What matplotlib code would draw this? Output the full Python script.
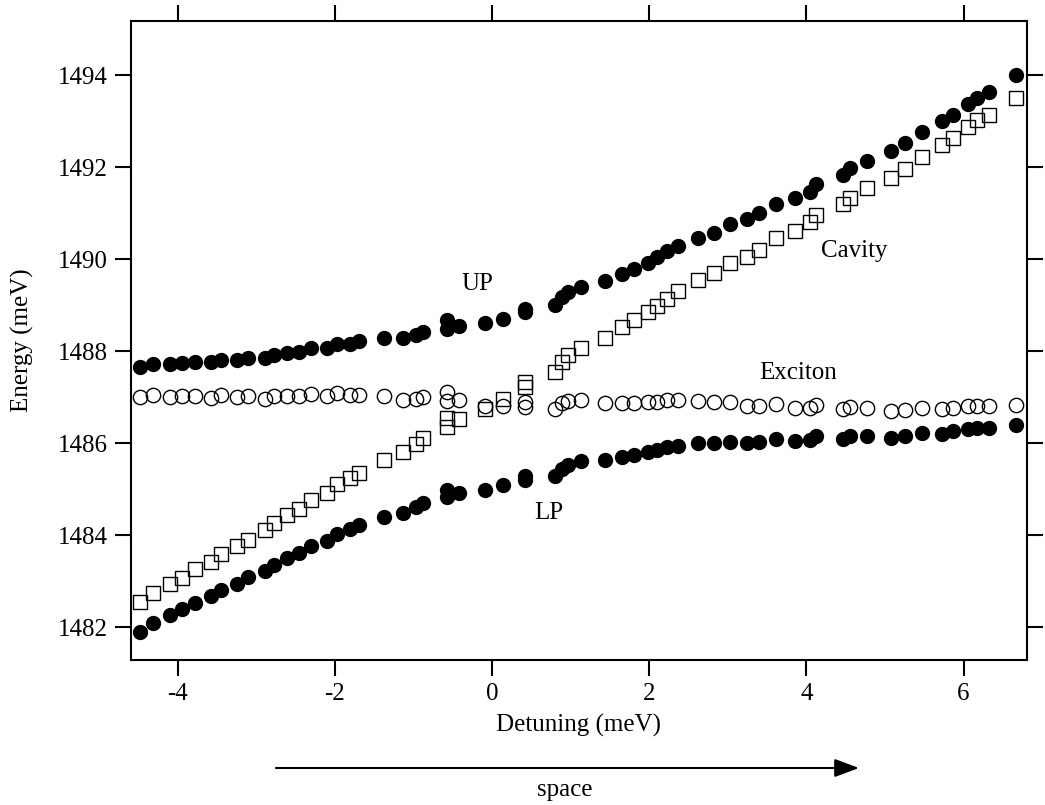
import numpy as np
import matplotlib.pyplot as plt

plt.rcParams['font.family'] = ['Liberation Serif', 'DejaVu Serif']
plt.rcParams['axes.unicode_minus'] = False

# detuning values (meV), two repeated measurements at -0.58 and 0.42
detuning = [-4.48, -4.32, -4.10, -3.95, -3.78, -3.58, -3.45, -3.24, -3.11, -2.89,
            -2.77, -2.61, -2.46, -2.30, -2.10, -1.98, -1.81, -1.70, -1.37, -1.13,
            -0.97, -0.88, -0.58, -0.58, -0.42, -0.09, 0.14, 0.42, 0.42, 0.80,
            0.89, 0.97, 1.13, 1.44, 1.65, 1.80, 1.98, 2.10, 2.22, 2.37,
            2.62, 2.82, 3.03, 3.24, 3.40, 3.61, 3.85, 4.04, 4.12, 4.46,
            4.55, 4.77, 5.08, 5.26, 5.47, 5.73, 5.86, 6.05, 6.17, 6.32, 6.67]

# upper polariton
up = [1487.65, 1487.73, 1487.73, 1487.74, 1487.76, 1487.76, 1487.81, 1487.81, 1487.86, 1487.86,
      1487.92, 1487.97, 1487.99, 1488.07, 1488.07, 1488.17, 1488.17, 1488.22, 1488.28, 1488.28,
      1488.36, 1488.41, 1488.68, 1488.49, 1488.56, 1488.61, 1488.70, 1488.92, 1488.85, 1489.01,
      1489.19, 1489.30, 1489.40, 1489.52, 1489.69, 1489.79, 1489.93, 1490.04, 1490.17, 1490.29,
      1490.47, 1490.58, 1490.76, 1490.87, 1491.00, 1491.21, 1491.33, 1491.47, 1491.64, 1491.83,
      1491.98, 1492.14, 1492.35, 1492.53, 1492.77, 1493.00, 1493.13, 1493.38, 1493.50, 1493.63, 1494.00]

# lower polariton
lp = [1481.90, 1482.10, 1482.27, 1482.39, 1482.52, 1482.68, 1482.82, 1482.95, 1483.10, 1483.23,
      1483.35, 1483.50, 1483.61, 1483.76, 1483.88, 1484.04, 1484.13, 1484.22, 1484.40, 1484.49,
      1484.62, 1484.70, 1484.99, 1484.83, 1484.92, 1484.98, 1485.09, 1485.28, 1485.21, 1485.28,
      1485.45, 1485.52, 1485.61, 1485.63, 1485.70, 1485.74, 1485.81, 1485.85, 1485.92, 1485.95,
      1486.00, 1486.00, 1486.03, 1486.00, 1486.03, 1486.10, 1486.06, 1486.08, 1486.15, 1486.10,
      1486.15, 1486.16, 1486.12, 1486.16, 1486.22, 1486.21, 1486.26, 1486.32, 1486.34, 1486.34, 1486.39]

# bare cavity mode
cavity = [1482.56, 1482.74, 1482.95, 1483.08, 1483.26, 1483.42, 1483.59, 1483.76, 1483.91, 1484.11,
          1484.26, 1484.44, 1484.58, 1484.76, 1484.92, 1485.11, 1485.25, 1485.35, 1485.64, 1485.81,
          1485.99, 1486.11, 1486.56, 1486.35, 1486.53, 1486.75, 1486.97, 1487.33, 1487.22, 1487.54,
          1487.76, 1487.91, 1488.07, 1488.30, 1488.52, 1488.67, 1488.86, 1488.99, 1489.14, 1489.32,
          1489.55, 1489.71, 1489.91, 1490.05, 1490.21, 1490.46, 1490.62, 1490.80, 1490.97, 1491.20,
          1491.34, 1491.54, 1491.77, 1491.97, 1492.23, 1492.48, 1492.63, 1492.87, 1493.02, 1493.13, 1493.51]

# bare exciton
exciton = [1487.00, 1487.06, 1487.00, 1487.02, 1487.02, 1486.99, 1487.05, 1487.00, 1487.02, 1486.97,
           1487.02, 1487.03, 1487.02, 1487.08, 1487.02, 1487.09, 1487.05, 1487.06, 1487.02, 1486.95,
           1486.97, 1487.00, 1487.11, 1486.93, 1486.95, 1486.82, 1486.82, 1486.89, 1486.80, 1486.75,
           1486.87, 1486.93, 1486.95, 1486.87, 1486.87, 1486.87, 1486.89, 1486.89, 1486.95, 1486.95,
           1486.93, 1486.89, 1486.89, 1486.82, 1486.82, 1486.86, 1486.77, 1486.76, 1486.84, 1486.75,
           1486.80, 1486.77, 1486.70, 1486.73, 1486.76, 1486.75, 1486.77, 1486.82, 1486.82, 1486.82, 1486.84]

xticks = [-4, -2, 0, 2, 4, 6]
yticks = [1482, 1484, 1486, 1488, 1490, 1492, 1494]

fig = plt.figure(figsize=(10.45, 8.05), dpi=100)
ax = fig.add_axes([0.125, 0.180, 0.858, 0.794])

ax.plot(detuning, exciton, 'o', ms=10.3, mfc='none', mec='black', mew=1.0)
ax.plot(detuning, cavity, 's', ms=10, mfc='none', mec='black', mew=1.0)
ax.plot(detuning, up, 'o', ms=10, color='black')
ax.plot(detuning, lp, 'o', ms=10, color='black')

ax.set_xlim(-4.60, 6.81)
ax.set_ylim(1481.29, 1495.18)
ax.set_xticks(xticks)
ax.set_yticks(yticks)

# ticks outside on all four sides, labels only left/bottom
ax.tick_params(direction='out', length=11.5, width=1.5, labelsize=18, pad=5,
               top=True, right=True)
for s in ax.spines.values():
    s.set_linewidth(1.5)

ax.set_xlabel('Detuning (meV)', fontsize=18)
ax.set_ylabel('Energy (meV)', fontsize=18)
ax.xaxis.set_label_coords(0.499, -0.0845)
ax.yaxis.set_label_coords(-0.108, 0.5)

# labels for the branches
ax.text(-0.19, 1489.33, 'UP', fontsize=18, ha='center', va='baseline')
ax.text(0.72, 1484.36, 'LP', fontsize=18, ha='center', va='baseline')
ax.text(4.61, 1490.04, 'Cavity', fontsize=18, ha='center', va='baseline')
ax.text(3.90, 1487.40, 'Exciton', fontsize=18, ha='center', va='baseline')

# arrow under the axis
ax.annotate('', xy=(859, 37), xytext=(276, 37), xycoords='figure pixels',
            arrowprops=dict(arrowstyle='-|>,head_length=0.75,head_width=0.28',
                            mutation_scale=20, lw=1.5, color='black',
                            shrinkA=0, shrinkB=0))
fig.text(565 / 1045, 15 / 805, 'space', fontsize=18, ha='center', va='center')

fig.savefig('out.png', dpi=100)
